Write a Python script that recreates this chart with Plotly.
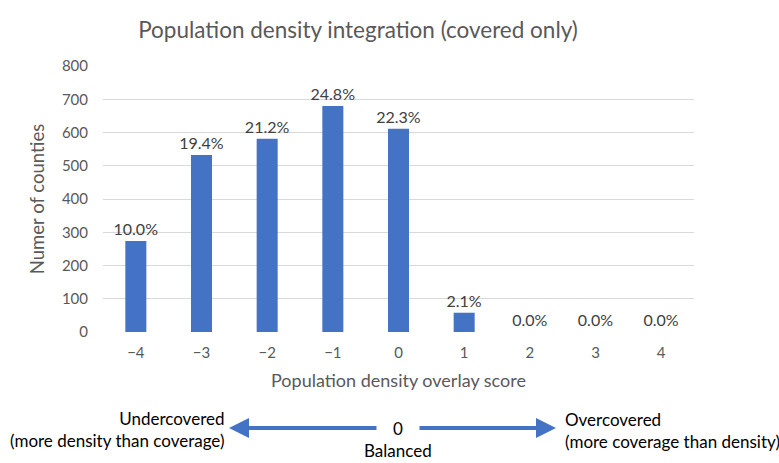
import plotly.graph_objects as go

scores = ["\u22124", "\u22123", "\u22122", "\u22121", "0", "1", "2", "3", "4"]
counts = [274, 532, 581, 680, 611, 58, 0, 0, 0]
pct_labels = ["10.0%", "19.4%", "21.2%", "24.8%", "22.3%", "2.1%", "0.0%", "0.0%", "0.0%"]
y_ticks = [0, 100, 200, 300, 400, 500, 600, 700, 800]

BLUE = "#4472C4"
FONT = "Lato"
W, H = 779, 463
L, R, T, B = 103, 85, 66, 131
pw, ph = W - L - R, H - T - B

def px(x):
    return (x - L) / pw

def py(y):
    return (H - B - y) / ph

fig = go.Figure()
fig.add_trace(go.Bar(
    x=scores, y=counts, text=pct_labels, textposition="outside",
    constraintext="none",
    textfont=dict(family=FONT, size=16, color="#404040"),
    marker=dict(color=BLUE, line=dict(width=0)),
    cliponaxis=False, hoverinfo="skip",
))

fig.update_layout(
    width=W, height=H,
    margin=dict(l=L, r=R, t=T, b=B),
    paper_bgcolor="white", plot_bgcolor="white",
    bargap=0.68,
    showlegend=False,
    font=dict(family=FONT, color="#595959"),
    title=dict(text="Population density integration (covered only)",
               font=dict(family=FONT, size=22.5, color="#595959"),
               xref="container", x=358 / W, xanchor="center", y=1 - 30 / H, yanchor="middle"),
    xaxis=dict(showgrid=False, showline=False, ticks="", zeroline=False,
               ticklabelstandoff=10,
               tickfont=dict(family=FONT, size=15, color="#595959"),
               title=dict(text="Population density overlay score",
                          font=dict(family=FONT, size=18, color="#595959"), standoff=14)),
    yaxis=dict(range=[0, 800], tickvals=y_ticks, showgrid=True, gridcolor="#D9D9D9",
               gridwidth=1, zeroline=False, showline=False, ticks="",
               ticklabelstandoff=14,
               tickfont=dict(family=FONT, size=15, color="#595959"),
               title=dict(text="Numer of counties",
                          font=dict(family=FONT, size=18.5, color="#595959"), standoff=12)),
)

TXT = dict(family=FONT, size=17, color="#000000")
# bottom explanation
fig.add_annotation(xref="paper", yref="paper", x=px(226), y=py(429), text="Undercovered<br>(more density than coverage)",
                   showarrow=False, xanchor="right", yanchor="middle", align="right", font=TXT)
fig.add_annotation(xref="paper", yref="paper", x=px(563), y=py(430), text="Overcovered<br>(more coverage than density)",
                   showarrow=False, xanchor="left", yanchor="middle", align="left", font=TXT)
fig.add_annotation(xref="paper", yref="paper", x=px(398), y=py(428), text="0",
                   showarrow=False, xanchor="center", yanchor="middle", font=TXT)
fig.add_annotation(xref="paper", yref="paper", x=px(398), y=py(463), text="Balanced",
                   showarrow=False, xanchor="center", yanchor="bottom", font=TXT)
# arrows
fig.add_annotation(xref="paper", yref="paper", x=px(229), y=py(428), ax=149, ay=0,
                   axref="pixel", ayref="pixel", text="", showarrow=True,
                   arrowhead=2, arrowsize=1, arrowwidth=4, arrowcolor=BLUE)
fig.add_annotation(xref="paper", yref="paper", x=px(556), y=py(428), ax=-138, ay=0,
                   axref="pixel", ayref="pixel", text="", showarrow=True,
                   arrowhead=2, arrowsize=1, arrowwidth=4, arrowcolor=BLUE)

fig.write_html("out.html", config={"displayModeBar": False},
               post_script="document.body.style.margin='0';document.body.style.overflow='hidden';")
